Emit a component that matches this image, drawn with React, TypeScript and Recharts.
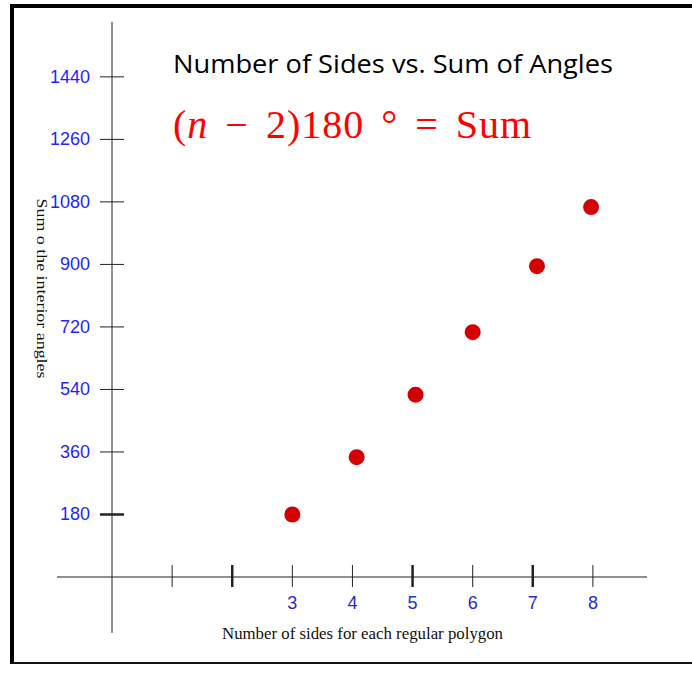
import React from "react";
import { ScatterChart, Scatter, XAxis, YAxis, ReferenceLine, Label } from "recharts";

// polygons: number of sides vs. sum of interior angles (as plotted)
const sides = [3, 4.07, 5.05, 6, 7.07, 7.97];
const angleSums = [180, 345, 525, 705, 895, 1065];

const xTicks = [1, 2, 3, 4, 5, 6, 7, 8];
const xTickLabels = ["", "", "3", "4", "5", "6", "7", "8"];
const yTicks = [180, 360, 540, 720, 900, 1080, 1260, 1440];
const yTickLabels = ["180", "360", "540", "720", "900", "1080", "1260", "1440"];
const heavyX = [2, 5, 7];
const heavyY = [180];

const points = sides.map((n, i) => ({ n, sum: angleSums[i] }));

const AXIS = "#222";
const TICK = 12;
const GAP = 10;
const SERIF = "Liberation Serif, Times New Roman, serif";

const XTick = ({ x, y, payload }: any) => {
  const i = xTicks.indexOf(payload.value);
  const axisY = y - TICK - GAP;
  return (
    <g>
      <line x1={x} x2={x} y1={axisY - 11} y2={axisY + 11} stroke={AXIS}
        strokeWidth={heavyX.includes(payload.value) ? 2.5 : 1} />
      <text x={x} y={axisY + 33} textAnchor="middle" fill="#2a2ac8"
        fontFamily="Liberation Sans, Arial, sans-serif" fontSize={18}>{xTickLabels[i]}</text>
    </g>
  );
};

const YTick = ({ x, y, payload }: any) => {
  const i = yTicks.indexOf(payload.value);
  const axisX = x + TICK + GAP;
  return (
    <g>
      <line x1={axisX - TICK} x2={axisX + TICK} y1={y} y2={y} stroke={AXIS}
        strokeWidth={heavyY.includes(payload.value) ? 2.5 : 1} />
      <text x={x} y={y + 6} textAnchor="end" fill="#1f1fff"
        fontFamily="Liberation Sans, Arial, sans-serif" fontSize={18}>{yTickLabels[i]}</text>
    </g>
  );
};

const XTitle = ({ viewBox }: any) => (
  <text x={viewBox.x + viewBox.width / 2 - 17} y={viewBox.y + 62} textAnchor="middle"
    fontFamily={SERIF} fontSize={16}
    textLength={281} lengthAdjust="spacingAndGlyphs" fill="#111">
    Number of sides for each regular polygon
  </text>
);

const YTitle = ({ viewBox }: any) => {
  const cx = viewBox.x + 37;
  const cy = viewBox.y + viewBox.height / 2 - 11;
  return (
    <text transform={`translate(${cx},${cy}) rotate(90)`} textAnchor="middle"
      fontFamily={SERIF} fontSize={15}
      textLength={180} lengthAdjust="spacingAndGlyphs" fill="#111">
      Sum o the interior angles
    </text>
  );
};

const Dot = ({ cx, cy }: any) => <circle cx={cx} cy={cy} r={8} fill="#d40000" />;

export default function App() {
  return (
    <div style={{ position: "absolute", left: 0, top: 0, width: 692, height: 673, background: "#fff" }}>
      <ScatterChart width={692} height={673} margin={{ top: 22, right: 45, left: 0, bottom: 36 }}>
        <XAxis type="number" dataKey="n" domain={[0, 8.9]} ticks={xTicks} interval={0}
          height={60} tickSize={11} tickMargin={GAP} tickLine={false} tick={<XTick />}
          axisLine={{ stroke: AXIS }}>
          <Label content={<XTitle />} />
        </XAxis>
        <YAxis type="number" dataKey="sum" domain={[0, 1598]} ticks={yTicks} interval={0}
          width={112} tickSize={TICK} tickMargin={GAP} tickLine={false} tick={<YTick />}
          axisLine={{ stroke: AXIS }}>
          <Label content={<YTitle />} />
        </YAxis>
        <ReferenceLine segment={[{ x: -0.915, y: 0 }, { x: 0, y: 0 }]} ifOverflow="visible" stroke={AXIS} />
        <ReferenceLine segment={[{ x: 0, y: -161 }, { x: 0, y: 0 }]} ifOverflow="visible" stroke={AXIS} />
        <Scatter data={points} shape={<Dot />} isAnimationActive={false} />
        <text x={173} y={73} fontFamily="Comic Sans MS, Open Sans, sans-serif" fontSize={25}
          textLength={440} lengthAdjust="spacingAndGlyphs" fill="#000">
          Number of Sides vs. Sum of Angles
        </text>
        <text x={173} y={138} fill="#ff0000" fontFamily={SERIF} fontSize={40}
          style={{ fontFamily: SERIF, wordSpacing: 6, letterSpacing: 1 }}>
          (<tspan fontStyle="italic">n</tspan> − 2)180 ° = Sum
        </text>
      </ScatterChart>
      <div style={{
        position: "absolute", left: 10, top: 4, width: 682, height: 660, boxSizing: "border-box",
        borderLeft: "4px solid #000", borderTop: "4px solid #000", borderBottom: "2px solid #111",
        pointerEvents: "none",
      }} />
    </div>
  );
}
